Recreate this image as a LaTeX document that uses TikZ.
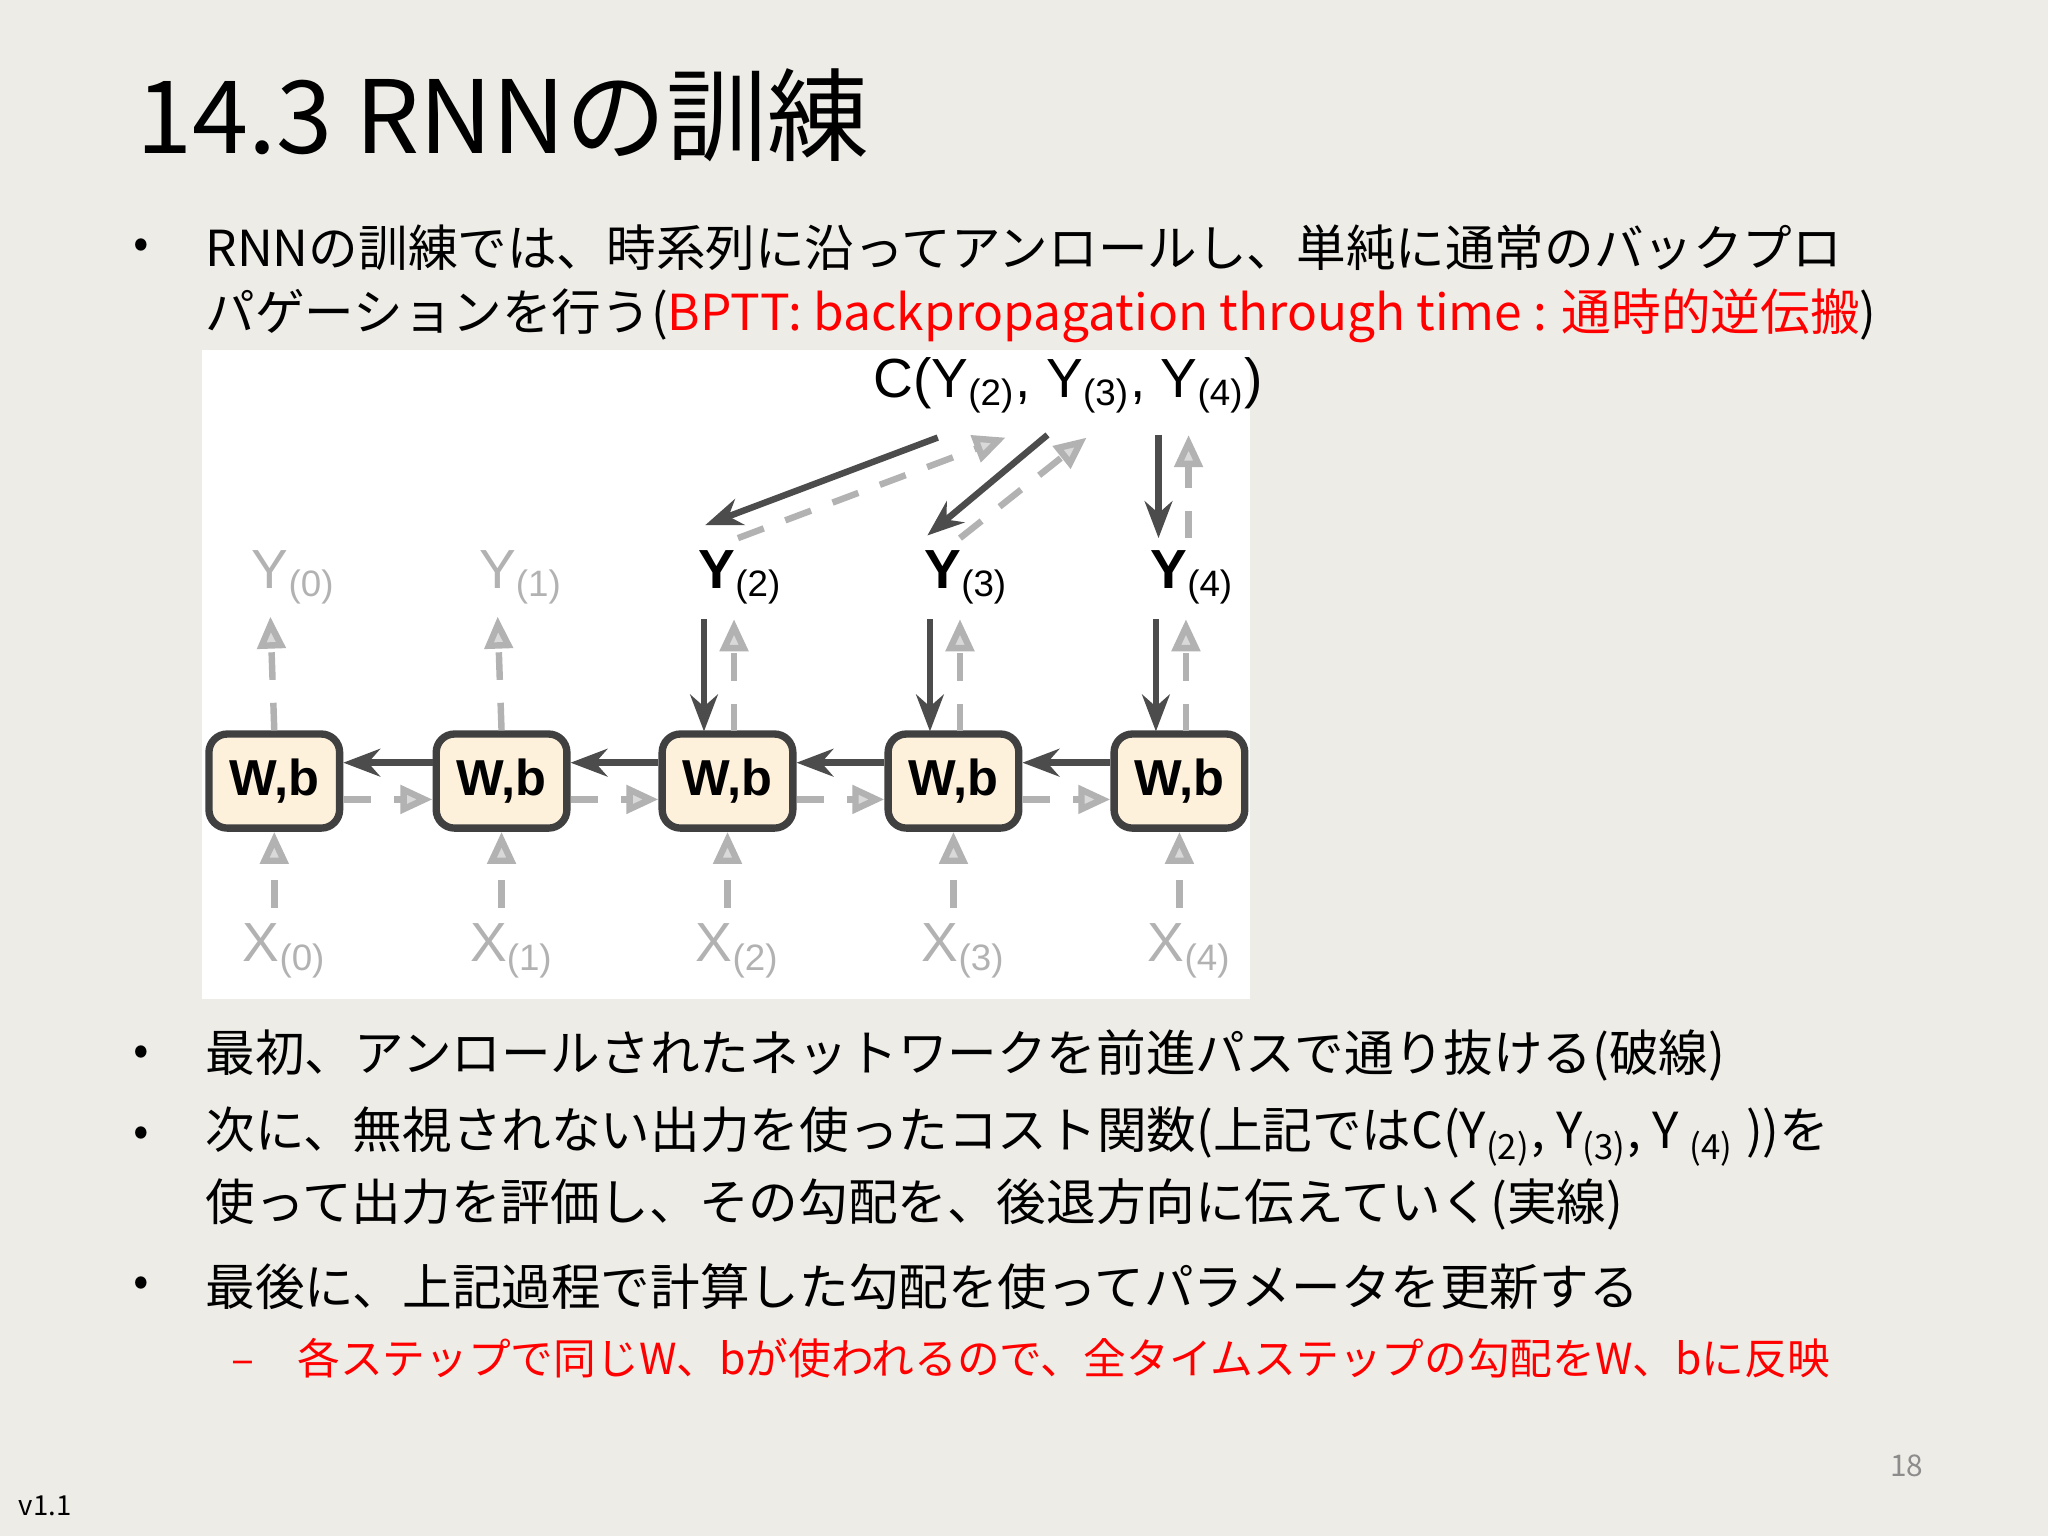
\documentclass[tikz,border=0pt]{standalone}
\usepackage{fontspec}
\setmainfont{Noto Sans CJK JP}
\setsansfont{Liberation Sans}
\usetikzlibrary{arrows.meta}
\begin{document}
\begin{tikzpicture}[x=0.01cm,y=-0.01cm,
 wb/.style={draw=black!75,line width=1.6pt,fill=yellow!20!orange!12,rounded corners=4pt,minimum width=1cm,minimum height=0.72cm,font=\sffamily\bfseries\fontsize{11}{11}\selectfont},
 fw/.style={draw=black!30,dash pattern=on 6pt off 5pt,line width=1.4pt,-{Triangle[length=7pt,width=6pt,fill=black!15]}},
 bw/.style={draw=black!70,line width=1.4pt,-{Stealth[length=8pt,width=6pt]}},
 lab/.style={font=\sffamily\fontsize{12}{12}\selectfont},
 body/.style={anchor=west,font=\fontsize{10.8}{13}\selectfont}]
\useasboundingbox[fill={rgb,255:red,238;green,236;blue,230}] (0,0) rectangle (1568,1176);
\node[anchor=west,font=\fontsize{22}{22}\selectfont] (title) at (92,88) {14.3 RNNの訓練};
\node[anchor=west] (b1) at (90,190) {•};
\node[body] (t1) at (145,190) {RNNの訓練では、時系列に沿ってアンロールし、単純に通常のバックプロ};
\node[body] (t2) at (145,242) {パゲーションを行う(\textcolor{red}{BPTT: backpropagation through time : 通時的逆伝搬})};
\fill[white] (155,268) rectangle (957,765);
\foreach \i/\x in {0/210,1/384,2/557,3/730,4/903}{
 \node[wb] (w\i) at (\x,598) {W,b};
 \node[lab,text=black!30] (x\i) at (\x+8,728) {X\textsubscript{(\i)}};
 \draw[fw] (\x,695) -- (w\i.south);
}
\foreach \i/\x in {0/210,1/384}{
 \node[lab,text=black!30] (y\i) at (\x+15,442) {Y\textsubscript{(\i)}};
 \draw[fw] (w\i.north) -- (\x-3,472);
}
\foreach \i/\x in {2/557,3/730,4/903}{
 \node[lab,text=black,font=\sffamily\bfseries\fontsize{12}{12}\selectfont] (y\i) at (\x+10,442) {Y\textsubscript{\mdseries(\i)}};
 \draw[fw] (\x+5,560) -- (\x+5,474);
 \draw[bw] (\x-18,474) -- (\x-18,560);
}
\foreach \a/\b in {0/1,1/2,2/3,3/4}{
 \draw[bw] ([yshift=4pt]w\b.west) -- ([yshift=4pt]w\a.east);
 \draw[fw] ([yshift=-4pt]w\a.east) -- ([yshift=-4pt]w\b.west);
}
\node[lab] (c) at (818,295) {C(Y\textsubscript{(2)}, Y\textsubscript{(3)}, Y\textsubscript{(4)})};
\draw[bw] (718,335) -- (540,402);
\draw[fw] (565,412) -- (770,335);
\draw[bw] (802,333) -- (710,410);
\draw[fw] (735,412) -- (832,335);
\draw[bw] (887,333) -- (887,412);
\draw[fw] (910,412) -- (910,333);
\node[anchor=west] (b2) at (90,808) {•};
\node[body] (t3) at (145,808) {最初、アンロールされたネットワークを前進パスで通り抜ける(破線)};
\node[anchor=west] (b3) at (90,870) {•};
\node[body] (t4) at (145,870) {次に、無視されない出力を使ったコスト関数(上記ではC(Y\textsubscript{(2)}, Y\textsubscript{(3)}, Y \textsubscript{(4)} ))を};
\node[body] (t5) at (145,922) {使って出力を評価し、その勾配を、後退方向に伝えていく(実線)};
\node[anchor=west] (b4) at (90,985) {•};
\node[body] (t6) at (145,985) {最後に、上記過程で計算した勾配を使ってパラメータを更新する};
\node[anchor=west,text=red,font=\fontsize{9.3}{12}\selectfont] (t7) at (165,1040) {–\hspace{1em}各ステップで同じW、bが使われるので、全タイムステップの勾配をW、bに反映};
\node[text=black!45,font=\fontsize{6.5}{8}\selectfont] (pg) at (1460,1122) {18};
\node[anchor=west,font=\fontsize{6}{8}\selectfont] (v) at (2,1153) {v1.1};
\end{tikzpicture}
\end{document}
